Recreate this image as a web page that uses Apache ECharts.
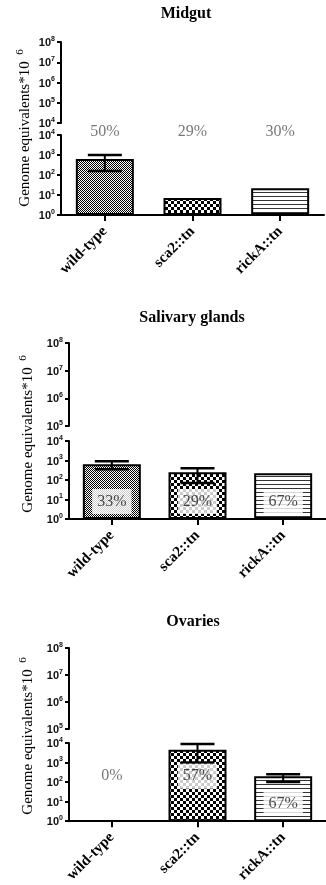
<!DOCTYPE html>
<html><head><meta charset="utf-8">
<script src="https://cdn.jsdelivr.net/npm/echarts@6/dist/echarts.min.js"></script>
<style>html,body{margin:0;padding:0;background:#fff}#c{width:326px;height:885px}</style>
</head><body><div id="c"></div>
<script>
// ---------------- data ----------------
const categories = ['wild-type', 'sca2::tn', 'rickA::tn'];
const panelTitles = ['Midgut', 'Salivary glands', 'Ovaries'];
const yAxisName = 'Genome equivalents*10';
const yAxisNameExp = '6';

const midgutMean = [630, 7, 22];
const midgutErrLow = [158, null, null];
const midgutErrHigh = [1000, null, null];
const midgutPct = ['50%', '29%', '30%'];
const midgutPctAt = [15000, 15000, 15000];

const salivaryMean = [640, 250, 220];
const salivaryErrLow = [355, 70, null];
const salivaryErrHigh = [910, 400, null];
const salivaryPct = ['33%', '29%', '67%'];
const salivaryPctAt = [8, 8, 8];

const ovariesMean = [null, 4470, 200];
const ovariesErrLow = [null, 1000, 100];
const ovariesErrHigh = [null, 8900, 250];
const ovariesPct = ['0%', '57%', '67%'];
const ovariesPctAt = [200, 200, 8];

const lowerAxisMin = 1, lowerAxisMax = 1e4;
const upperAxisMin = [1e4, 1e5, 1e5], upperAxisMax = 1e8;

// ---------------- layout / style ----------------
const panels = [
  {left: 61, width: 263, upTop: 42, upH: 81, lowTop: 135, lowH: 80, titleX: 186, titleY: 14, nameX: 25, nameY: 134},
  {left: 69, width: 262, upTop: 343, upH: 83, lowTop: 441, lowH: 78, titleX: 192, titleY: 318, nameX: 28, nameY: 440},
  {left: 69, width: 262, upTop: 648, upH: 81, lowTop: 743, lowH: 80, titleX: 193, titleY: 622, nameX: 28, nameY: 742}
];
const panelData = [
  {mean: midgutMean, lo: midgutErrLow, hi: midgutErrHigh, pct: midgutPct, pctAt: midgutPctAt},
  {mean: salivaryMean, lo: salivaryErrLow, hi: salivaryErrHigh, pct: salivaryPct, pctAt: salivaryPctAt},
  {mean: ovariesMean, lo: ovariesErrLow, hi: ovariesErrHigh, pct: ovariesPct, pctAt: ovariesPctAt}
];
const SERIF = '"Liberation Serif", "Times New Roman", serif';
const SANS = '"Liberation Sans", Arial, sans-serif';

function makePattern(kind) {
  const c = document.createElement('canvas');
  let ctx;
  if (kind === 'fine') {
    c.width = 2; c.height = 2; ctx = c.getContext('2d');
    ctx.fillStyle = '#fff'; ctx.fillRect(0, 0, 2, 2);
    ctx.fillStyle = '#000'; ctx.fillRect(0, 0, 1, 1); ctx.fillRect(1, 1, 1, 1);
  } else if (kind === 'checker') {
    c.width = 6; c.height = 6; ctx = c.getContext('2d');
    ctx.fillStyle = '#fff'; ctx.fillRect(0, 0, 6, 6);
    ctx.fillStyle = '#000'; ctx.fillRect(0, 0, 3, 3); ctx.fillRect(3, 3, 3, 3);
  } else {
    c.width = 4; c.height = 4; ctx = c.getContext('2d');
    ctx.fillStyle = '#fff'; ctx.fillRect(0, 0, 4, 4);
    ctx.fillStyle = '#333'; ctx.fillRect(0, 0, 4, 1);
  }
  return {image: c, repeat: 'repeat'};
}
const patterns = [makePattern('fine'), makePattern('checker'), makePattern('stripes')];

const tickLabel = {
  margin: 6,
  formatter: v => '{a|10}{b|' + Math.round(Math.log10(v)) + '}',
  rich: {
    a: {fontSize: 11, fontFamily: SANS, fontWeight: 'bold', color: '#111', lineHeight: 13, verticalAlign: 'bottom'},
    b: {fontSize: 7, fontFamily: SANS, fontWeight: 'bold', color: '#111', lineHeight: 8, verticalAlign: 'top'}
  }
};
const axisLine = {show: true, lineStyle: {color: '#000', width: 2}};
const yTick = {show: true, length: 4, lineStyle: {color: '#000', width: 2}};

const grid = [], xAxis = [], yAxis = [], series = [], graphic = [];
panels.forEach((p, i) => {
  const d = panelData[i];
  grid.push({left: p.left, top: p.upTop, width: p.width, height: p.upH});
  grid.push({left: p.left, top: p.lowTop, width: p.width, height: p.lowH});
  xAxis.push({gridIndex: 2 * i, type: 'category', data: categories, show: false});
  xAxis.push({
    gridIndex: 2 * i + 1, type: 'category', data: categories,
    axisLine: axisLine,
    axisTick: {show: true, alignWithLabel: true, length: 6, lineStyle: {color: '#000', width: 2}},
    axisLabel: {rotate: 45, interval: 0, margin: 14, fontFamily: SERIF, fontWeight: 'bold', fontSize: 15, color: '#000'}
  });
  const upSplit = Math.round(Math.log10(upperAxisMax / upperAxisMin[i]));
  yAxis.push({gridIndex: 2 * i, type: 'log', logBase: 10, min: upperAxisMin[i], max: upperAxisMax,
    splitNumber: upSplit, axisLine: axisLine, axisTick: yTick, axisLabel: tickLabel, splitLine: {show: false}, minorTick: {show: false}});
  yAxis.push({gridIndex: 2 * i + 1, type: 'log', logBase: 10, min: lowerAxisMin, max: lowerAxisMax,
    splitNumber: 4, axisLine: axisLine, axisTick: yTick, axisLabel: tickLabel, splitLine: {show: false}, minorTick: {show: false}});

  series.push({
    type: 'bar', xAxisIndex: 2 * i + 1, yAxisIndex: 2 * i + 1, barWidth: 58, z: 2,
    data: d.mean.map((v, k) => ({value: v == null ? '-' : v, itemStyle: {color: patterns[k], borderColor: '#000', borderWidth: 2}}))
  });
  const errData = [];
  d.mean.forEach((v, k) => { if (d.lo[k] != null) errData.push([k, d.lo[k], d.hi[k]]); });
  series.push({
    type: 'custom', xAxisIndex: 2 * i + 1, yAxisIndex: 2 * i + 1, z: 4,
    data: errData, encode: {x: 0, y: [1, 2]},
    renderItem: (params, api) => {
      const x = api.value(0);
      const pHi = api.coord([x, api.value(2)]);
      const pLo = api.coord([x, api.value(1)]);
      const h = 17;
      const st = {stroke: '#000', lineWidth: 2};
      return {type: 'group', children: [
        {type: 'line', shape: {x1: pHi[0], y1: pHi[1], x2: pLo[0], y2: pLo[1]}, style: st},
        {type: 'line', shape: {x1: pHi[0] - h, y1: pHi[1], x2: pHi[0] + h, y2: pHi[1]}, style: {stroke: '#000', lineWidth: 2.5}},
        {type: 'line', shape: {x1: pLo[0] - h, y1: pLo[1], x2: pLo[0] + h, y2: pLo[1]}, style: {stroke: '#000', lineWidth: 2.5}}
      ]};
    }
  });
  series.push({
    type: 'scatter', xAxisIndex: 2 * i + 1, yAxisIndex: 2 * i + 1, z: 6, clip: false,
    symbolSize: 1, itemStyle: {color: 'rgba(0,0,0,0)'}, silent: true,
    data: d.pct.map((t, k) => {
      const inside = d.mean[k] != null && d.mean[k] > d.pctAt[k];
      return {value: [k, d.pctAt[k]], label: {
        show: true, position: 'inside', formatter: t,
        fontFamily: SERIF, fontSize: 16, color: inside ? '#1a1a1a' : '#555',
        backgroundColor: inside ? '#fff' : 'transparent', padding: [5, 5, 4, 5]
      }};
    })
  });

  graphic.push({type: 'text', x: p.titleX, y: p.titleY, style: {text: panelTitles[i], align: 'center', verticalAlign: 'middle',
    fontFamily: SERIF, fontWeight: 'bold', fontSize: 16, fill: '#000'}});
  graphic.push({type: 'text', x: p.nameX, y: p.nameY, rotation: Math.PI / 2, style: {text: yAxisName, align: 'center', verticalAlign: 'middle',
    fontFamily: SERIF, fontSize: 15, fill: '#000'}});
  graphic.push({type: 'text', x: p.nameX - 5, y: p.nameY - 82, rotation: Math.PI / 2, style: {text: yAxisNameExp, align: 'center', verticalAlign: 'middle',
    fontFamily: SERIF, fontSize: 11, fill: '#000'}});
});

const chart = echarts.init(document.getElementById('c'), null, {renderer: 'canvas'});
chart.setOption({backgroundColor: '#fff', animation: false, grid, xAxis, yAxis, series, graphic});
</script></body></html>
